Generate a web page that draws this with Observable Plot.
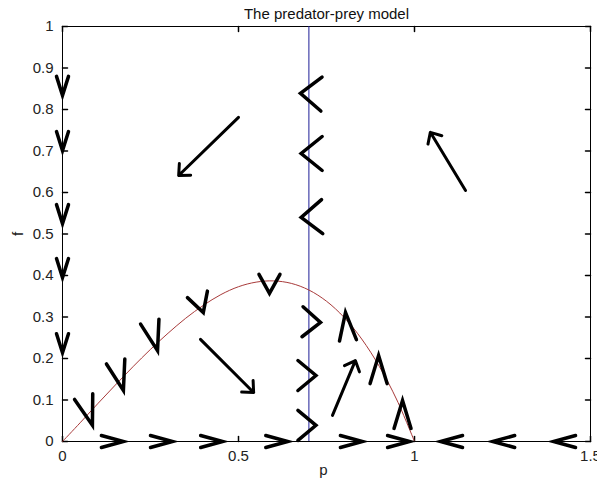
<!DOCTYPE html>
<html>
<head>
<meta charset="utf-8">
<script src="https://cdn.jsdelivr.net/npm/d3@7"></script>
<script src="https://cdn.jsdelivr.net/npm/@observablehq/plot@0.6"></script>
<style>
  body { margin: 0; background: #fff; }
</style>
</head>
<body>
<div id="chart"></div>
<script>
// Text
const title = "The predator-prey model";
const xLabel = "p";
const yLabel = "f";

// Axis ticks
const xTicks = [0, 0.5, 1, 1.5];
const xTickLabels = ["0", "0.5", "1", "1.5"];
const yTicks = [0, 0.1, 0.2, 0.3, 0.4, 0.5, 0.6, 0.7, 0.8, 0.9, 1];
const yTickLabels = ["0", "0.1", "0.2", "0.3", "0.4", "0.5", "0.6", "0.7", "0.8", "0.9", "1"];

// Prey nullcline (red curve)
const nullclineP = [0, 0.05, 0.1, 0.15, 0.2, 0.25, 0.3, 0.35, 0.4, 0.45, 0.5, 0.55, 0.6, 0.65, 0.7, 0.75, 0.8, 0.85, 0.9, 0.95, 1];
const nullclineF = [0, 0.045, 0.091, 0.136, 0.180, 0.222, 0.261, 0.297, 0.328, 0.354, 0.373, 0.384, 0.387, 0.381, 0.365, 0.338, 0.299, 0.247, 0.181, 0.100, 0];

// Predator nullcline (blue vertical line)
const predatorNullclineP = 0.7;

// Direction heads: tip position (p, f) and heading in degrees (0 = up, 90 = right)
const fAxisHeads = [
  {p: 0, f: 0.834, dir: 180},
  {p: 0, f: 0.701, dir: 180},
  {p: 0, f: 0.525, dir: 180},
  {p: 0, f: 0.395, dir: 180},
  {p: 0, f: 0.214, dir: 180}
];
const risingHeads = [
  {p: 0.085, f: 0.039, dir: 163},
  {p: 0.173, f: 0.123, dir: 165},
  {p: 0.270, f: 0.219, dir: 165}
];
const peakHeads = [
  {p: 0.400, f: 0.311, dir: 162},
  {p: 0.588, f: 0.357, dir: 180}
];
const upperLineHeads = [
  {p: 0.676, f: 0.839, dir: 272},
  {p: 0.678, f: 0.694, dir: 270},
  {p: 0.678, f: 0.540, dir: 268}
];
const lowerLineHeads = [
  {p: 0.733, f: 0.287, dir: 92},
  {p: 0.720, f: 0.159, dir: 90},
  {p: 0.720, f: 0.039, dir: 90}
];
const fallingHeads = [
  {p: 0.804, f: 0.311, dir: 355},
  {p: 0.898, f: 0.207, dir: 0},
  {p: 0.966, f: 0.099, dir: 0}
];
const pAxisRightHeads = [0.173, 0.3125, 0.455, 0.64, 0.852, 0.986].map(p => ({p, f: 0, dir: 90}));
const pAxisLeftHeads = [1.074, 1.222, 1.395].map(p => ({p, f: 0, dir: 270}));

// Flow arrows: tail (p1, f1) to tip (p2, f2)
const flowArrows = [
  {p1: 0.500, f1: 0.781, p2: 0.330, f2: 0.641},
  {p1: 1.145, f1: 0.605, p2: 1.045, f2: 0.745},
  {p1: 0.392, f1: 0.246, p2: 0.543, f2: 0.118},
  {p1: 0.767, f1: 0.063, p2: 0.832, f2: 0.195}
];

const nullcline = nullclineP.map((p, i) => ({p, f: nullclineF[i]}));

// Open "V" head: two arms meeting at the tip, drawn pointing up
const vee = {
  draw(context, l, r) {
    context.moveTo(-r, 0);
    context.lineTo(0, -l);
    context.lineTo(r, 0);
  }
};
// Short straight tick
const tick = {
  draw(context, l) {
    context.moveTo(0, 0);
    context.lineTo(0, -l);
  }
};

const headStyle = {
  x: "p", y: "f", rotate: "dir", anchor: "end", shape: vee,
  stroke: "black", strokeWidth: 3.5, strokeLinecap: "round", strokeLinejoin: "miter"
};

const chart = Plot.plot({
  width: 597,
  height: 491,
  marginLeft: 62,
  marginRight: 7,
  marginTop: 26,
  marginBottom: 50,
  style: {fontFamily: "'Liberation Sans', Arial, sans-serif", fontSize: "15px", color: "#222", background: "#fff"},
  x: {domain: [0, 1.5]},
  y: {domain: [0, 1]},
  marks: [
    Plot.frame({stroke: "black", strokeWidth: 1}),
    // inward ticks on all four sides
    Plot.vector(yTicks, {y: d => d, frameAnchor: "left", rotate: 90, length: 5, anchor: "start", shape: tick, stroke: "black"}),
    Plot.vector(yTicks, {y: d => d, frameAnchor: "right", rotate: 270, length: 5, anchor: "start", shape: tick, stroke: "black"}),
    Plot.vector(xTicks, {x: d => d, frameAnchor: "bottom", rotate: 0, length: 5, anchor: "start", shape: tick, stroke: "black"}),
    Plot.vector(xTicks, {x: d => d, frameAnchor: "top", rotate: 180, length: 5, anchor: "start", shape: tick, stroke: "black"}),
    Plot.axisX(xTicks, {anchor: "bottom", tickSize: 0, tickPadding: 9, label: null, tickFormat: d => xTickLabels[xTicks.indexOf(d)]}),
    Plot.axisY(yTicks, {anchor: "left", tickSize: 0, tickPadding: 9, label: null, tickFormat: d => yTickLabels[yTicks.indexOf(d)]}),
    // nullclines
    Plot.ruleX([predatorNullclineP], {stroke: "#1c1c96", strokeWidth: 1}),
    Plot.line(nullcline, {x: "p", y: "f", stroke: "#a83a3a", strokeWidth: 1, curve: "catmull-rom"}),
    // direction heads
    Plot.vector(fAxisHeads, {...headStyle, length: 19, r: 6}),
    Plot.vector(risingHeads, {...headStyle, length: 30, r: 9.5}),
    Plot.vector(peakHeads, {...headStyle, length: 19, r: 10.5}),
    Plot.vector(upperLineHeads, {...headStyle, length: 21, r: 17}),
    Plot.vector(lowerLineHeads, {...headStyle, length: 18, r: 15}),
    Plot.vector(fallingHeads, {...headStyle, length: 28, r: 8.5}),
    Plot.vector(pAxisRightHeads, {...headStyle, length: 22, r: 6}),
    Plot.vector(pAxisLeftHeads, {...headStyle, length: 22, r: 6}),
    // flow arrows
    Plot.arrow(flowArrows, {x1: "p1", y1: "f1", x2: "p2", y2: "f2", stroke: "black", strokeWidth: 3, headLength: 6, headAngle: 85}),
    // title and axis labels
    Plot.text([title], {frameAnchor: "top", dy: -18, fontSize: 15, fill: "#111"}),
    Plot.text([xLabel], {frameAnchor: "bottom", dy: 33, dx: -3, fontSize: 15, fill: "#222"}),
    Plot.text([yLabel], {frameAnchor: "left", dx: -44, dy: 2, rotate: -90, fontSize: 15, fill: "#222"})
  ]
});

document.getElementById("chart").appendChild(chart);
</script>
</body>
</html>
